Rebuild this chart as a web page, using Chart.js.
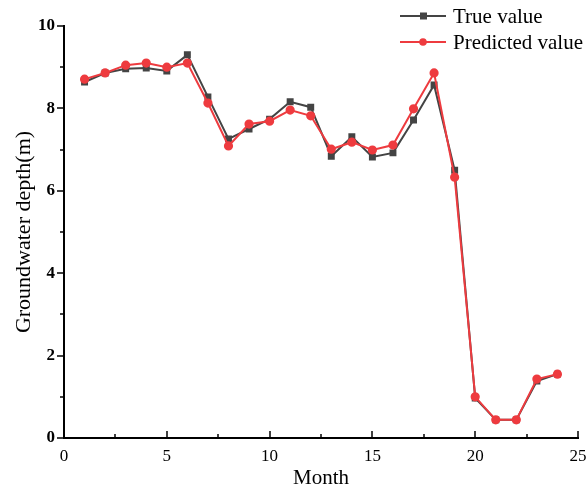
<!DOCTYPE html>
<html>
<head>
<meta charset="utf-8">
<script src="https://cdn.jsdelivr.net/npm/chart.js@4/dist/chart.umd.min.js"></script>
<style>
  html, body { margin: 0; padding: 0; background: #fff; }
  #wrap { width: 587px; height: 490px; }
</style>
</head>
<body>
<div id="wrap"><canvas id="chart"></canvas></div>
<script>
const months = [1, 2, 3, 4, 5, 6, 7, 8, 9, 10, 11, 12, 13, 14, 15, 16, 17, 18, 19, 20, 21, 22, 23, 24];
const trueValues = [8.64, 8.86, 8.96, 8.98, 8.91, 9.30, 8.28, 7.26, 7.50, 7.74, 8.16, 8.03,
  6.84, 7.31, 6.82, 6.92, 7.72, 8.57, 6.50, 0.97, 0.44, 0.44, 1.38, 1.55];
const predictedValues = [8.71, 8.86, 9.05, 9.10, 9.00, 9.10, 8.13, 7.09, 7.62, 7.69, 7.96, 7.82,
  7.01, 7.18, 6.99, 7.11, 7.99, 8.86, 6.33, 1.00, 0.44, 0.44, 1.43, 1.55];
const seriesNames = ['True value', 'Predicted value'];

const serif = "'Liberation Serif', 'Times New Roman', serif";
const black = '#444444';
const red = '#ee3b3f';

function toPoints(values) {
  return values.map(function (v, i) { return { x: months[i], y: v }; });
}

// hand-drawn axis ticks: x ticks point inward, y ticks point outward, minor ones shorter
const axisTicks = {
  id: 'axisTicks',
  afterDraw: function (chart) {
    const ctx = chart.ctx;
    const xs = chart.scales.x;
    const ys = chart.scales.y;
    ctx.save();
    ctx.strokeStyle = '#000';
    ctx.lineWidth = 1.5;
    xs.ticks.forEach(function (t) {
      const px = Math.round(xs.getPixelForValue(t.value));
      const major = t.value % 5 === 0;
      ctx.beginPath();
      ctx.moveTo(px, xs.top);
      ctx.lineTo(px, xs.top - (major ? 7 : 4));
      ctx.stroke();
    });
    ys.ticks.forEach(function (t) {
      const py = Math.round(ys.getPixelForValue(t.value));
      const major = t.value % 2 === 0;
      ctx.beginPath();
      ctx.moveTo(ys.right, py);
      ctx.lineTo(ys.right - (major ? 7 : 4), py);
      ctx.stroke();
    });
    ctx.restore();
  }
};

// legend in the top-right corner, drawn from the dataset styles
const cornerLegend = {
  id: 'cornerLegend',
  afterDraw: function (chart) {
    const ctx = chart.ctx;
    ctx.save();
    chart.data.datasets.slice().sort(function (a, b) { return a.legendRank - b.legendRank; })
      .forEach(function (ds, i) {
        const y = 16 + i * 26;
        ctx.strokeStyle = ds.borderColor;
        ctx.lineWidth = 2;
        ctx.beginPath();
        ctx.moveTo(400, y);
        ctx.lineTo(446, y);
        ctx.stroke();
        ctx.fillStyle = ds.pointBackgroundColor;
        if (ds.pointStyle === 'rect') {
          ctx.fillRect(420, y - 3.5, 7, 7);
        } else {
          ctx.beginPath();
          ctx.arc(423, y, 3.8, 0, Math.PI * 2);
          ctx.fill();
        }
        ctx.fillStyle = '#000';
        ctx.font = '21px ' + serif;
        ctx.textBaseline = 'middle';
        ctx.textAlign = 'left';
        ctx.fillText(ds.label, 453, y + 1);
      });
    ctx.restore();
  }
};

new Chart(document.getElementById('chart'), {
  type: 'line',
  data: {
    datasets: [
      {
        label: seriesNames[1],
        legendRank: 1,
        order: 0,
        data: toPoints(predictedValues),
        borderColor: red,
        backgroundColor: red,
        pointBackgroundColor: red,
        pointBorderColor: red,
        pointStyle: 'circle',
        pointRadius: 3.6,
        borderWidth: 2,
        tension: 0
      },
      {
        label: seriesNames[0],
        legendRank: 0,
        order: 1,
        data: toPoints(trueValues),
        borderColor: black,
        backgroundColor: black,
        pointBackgroundColor: black,
        pointBorderColor: black,
        pointStyle: 'rect',
        pointRadius: 3.5,
        borderWidth: 2,
        tension: 0
      }
    ]
  },
  options: {
    responsive: true,
    maintainAspectRatio: false,
    animation: false,
    layout: { padding: { top: 26, right: 9, left: 0, bottom: 0 } },
    plugins: {
      legend: { display: false },
      tooltip: { enabled: false }
    },
    scales: {
      x: {
        type: 'linear',
        min: 0,
        max: 25,
        afterFit: function (scale) { scale.height = 52; },
        grid: { display: true, drawOnChartArea: false, drawTicks: true, tickLength: 8, tickColor: 'rgba(0,0,0,0)' },
        border: { display: true, color: '#000', width: 2 },
        ticks: {
          stepSize: 2.5,
          autoSkip: false,
          maxRotation: 0,
          padding: 0,
          color: '#000',
          font: { family: serif, size: 17 },
          callback: function (v) { return v % 5 === 0 ? String(v) : ''; }
        },
        title: {
          display: true,
          text: 'Month',
          color: '#000',
          font: { family: serif, size: 21 },
          padding: { top: 0, bottom: -1.5 }
        }
      },
      y: {
        min: 0,
        max: 10,
        afterFit: function (scale) { scale.width = 64; },
        grid: { display: false, drawTicks: false },
        border: { display: true, color: '#000', width: 2 },
        ticks: {
          stepSize: 1,
          autoSkip: false,
          padding: 9,
          color: '#000',
          font: { family: serif, size: 17, weight: 'bold' },
          callback: function (v) { return v % 2 === 0 ? String(v) : ''; }
        },
        title: {
          display: true,
          text: 'Groundwater depth(m)',
          color: '#000',
          font: { family: serif, size: 22 },
          padding: { top: 11, bottom: 0 }
        }
      }
    }
  },
  plugins: [axisTicks, cornerLegend]
});
</script>
</body>
</html>
